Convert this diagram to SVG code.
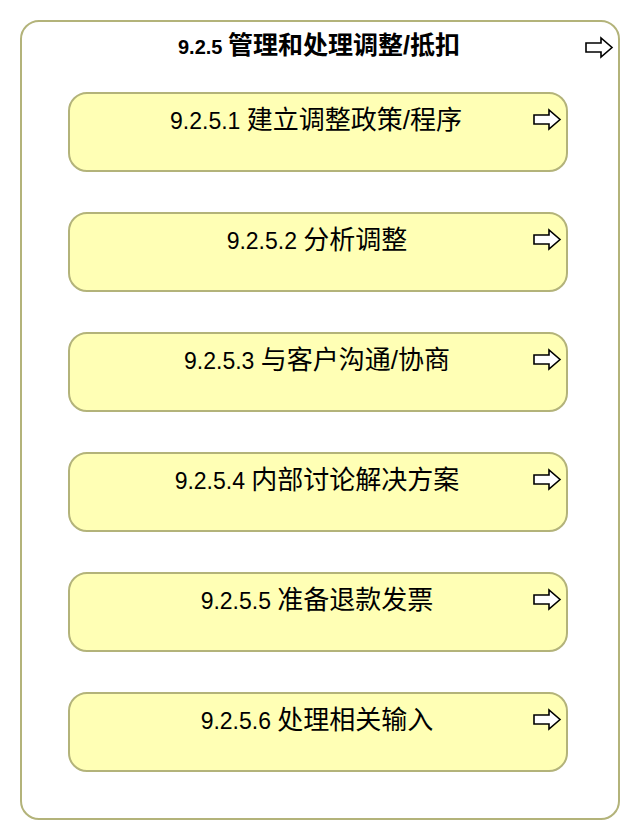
<svg xmlns="http://www.w3.org/2000/svg" width="640" height="840" viewBox="0 0 640 840">
<style>
.outer{fill:#ffffff;stroke:#b3b37a;stroke-width:2}
.box{fill:#ffffb5;stroke:#b3b37a;stroke-width:2}
.t{font-family:"Liberation Sans","Noto Sans CJK SC",sans-serif;font-size:23px;fill:#000;text-anchor:middle}
.c{font-size:26px}
.tb{font-weight:bold;font-size:20px}
.tb .c{font-size:25px}
.arr{fill:#fff;stroke:#000;stroke-width:1.6;stroke-linejoin:miter}
</style>
<defs>
<path id="arrow" class="arr" d="M0,5 H15 V0 L26,9.5 L15,19 V14 H0 Z"/>
</defs>
<g id="container">
<rect class="outer" x="21" y="21" width="598" height="798" rx="18"/>
<text class="t tb" x="319" y="54">9.2.5 <tspan class="c">管理和处理调整/抵扣</tspan></text>
<use href="#arrow" x="586" y="38"/>
</g>
<g id="n1">
<rect class="box" x="69" y="93" width="498" height="78" rx="18"/>
<text class="t" x="316" y="129">9.2.5.1 <tspan class="c">建立调整政策/程序</tspan></text>
<use href="#arrow" x="534" y="110"/>
</g>
<g id="n2">
<rect class="box" x="69" y="213" width="498" height="78" rx="18"/>
<text class="t" x="317" y="249">9.2.5.2 <tspan class="c">分析调整</tspan></text>
<use href="#arrow" x="534" y="230"/>
</g>
<g id="n3">
<rect class="box" x="69" y="333" width="498" height="78" rx="18"/>
<text class="t" x="317" y="369">9.2.5.3 <tspan class="c">与客户沟通/协商</tspan></text>
<use href="#arrow" x="534" y="350"/>
</g>
<g id="n4">
<rect class="box" x="69" y="453" width="498" height="78" rx="18"/>
<text class="t" x="317" y="489">9.2.5.4 <tspan class="c">内部讨论解决方案</tspan></text>
<use href="#arrow" x="534" y="470"/>
</g>
<g id="n5">
<rect class="box" x="69" y="573" width="498" height="78" rx="18"/>
<text class="t" x="317" y="609">9.2.5.5 <tspan class="c">准备退款发票</tspan></text>
<use href="#arrow" x="534" y="590"/>
</g>
<g id="n6">
<rect class="box" x="69" y="693" width="498" height="78" rx="18"/>
<text class="t" x="317" y="729">9.2.5.6 <tspan class="c">处理相关输入</tspan></text>
<use href="#arrow" x="534" y="710"/>
</g>
<g id="connectors"></g>
</svg>
